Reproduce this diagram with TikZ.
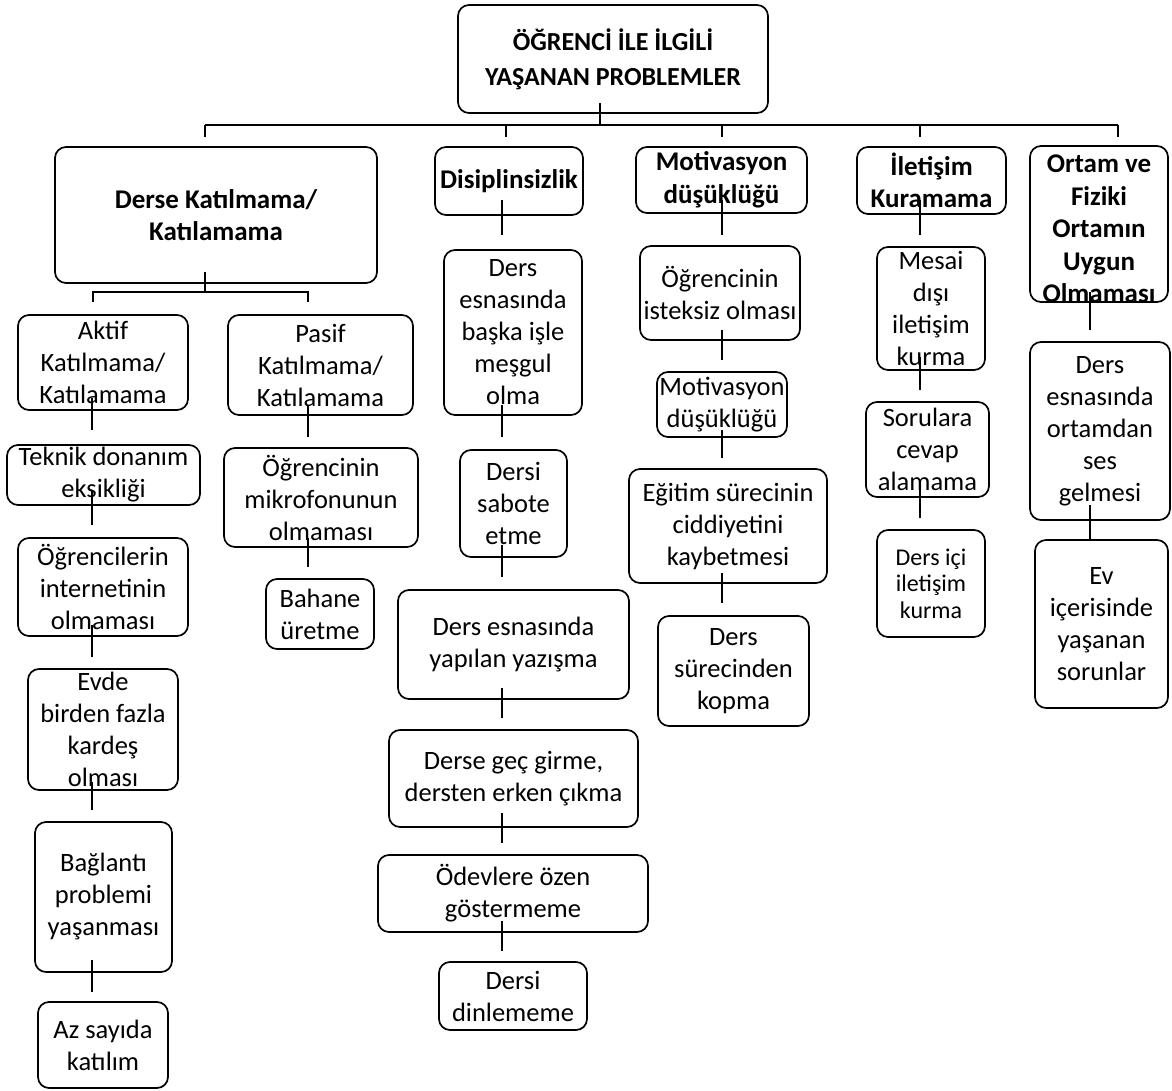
\documentclass[tikz,border=0pt]{standalone}
\usepackage{fontspec}
\setmainfont{Carlito}
\tikzset{
  box/.style={draw, line width=1.7pt, rounded corners=11pt, inner sep=0pt},
  txt/.style={align=center, inner sep=0pt, font=\fontsize{26.5}{32}\selectfont},
  btxt/.style={align=center, inner sep=0pt, font=\fontsize{27}{32.5}\selectfont\bfseries},
  rtxt/.style={align=center, inner sep=0pt, font=\fontsize{26}{35}\selectfont\bfseries},
  stxt/.style={align=center, inner sep=0pt, font=\fontsize{24}{26.5}\selectfont},
  conn/.style={line width=1.7pt},
}
\newcommand{\bx}[6]{%
  \node[box, minimum width=#4, minimum height=#5] (#1) at (#2,#3) {};
  \node[#6] (#1-t) at (#1.center) }
\begin{document}
\begin{tikzpicture}[x=1pt,y=-1pt]
\useasboundingbox (0,0) rectangle (1172,1091);
% root
\bx{root}{613}{59}{310}{108}{rtxt}{ÖĞRENCİ İLE İLGİLİ\\YAŞANAN PROBLEMLER};
% level 1
\bx{d1}{216}{215}{322}{136}{btxt}{Derse Katılmama/\\Katılamama};
\bx{d2}{509}{181}{148}{68}{btxt}{Disiplinsizlik};
\bx{d3}{721.5}{180}{171}{66}{btxt}{Motivasyon\\düşüklüğü};
\bx{d4}{931.5}{180.5}{149}{67}{btxt}{İletişim\\Kuramama};
\bx{d5}{1099}{224}{138}{156}{btxt,yshift=-5pt}{Ortam ve\\Fiziki\\Ortamın\\Uygun\\Olmaması};
% aktif
\bx{a1}{103}{362.5}{170}{95}{txt}{Aktif\\Katılmama/\\Katılamama};
\bx{a2}{103.5}{475}{193}{60}{txt}{Teknik donanım\\eksikliği};
\bx{a3}{103}{587}{170}{98}{txt}{Öğrencilerin\\internetinin\\olmaması};
\bx{a4}{103}{729.5}{150}{121}{txt}{Evde\\birden fazla\\kardeş\\olması};
\bx{a5}{103.5}{897}{137}{150}{txt}{Bağlantı\\problemi\\yaşanması};
\bx{a6}{103}{1045}{130}{86}{txt}{Az sayıda\\katılım};
% pasif
\bx{p1}{320.5}{365}{185}{100}{txt}{Pasif\\Katılmama/\\Katılamama};
\bx{p2}{321}{497.5}{194}{99}{txt}{Öğrencinin\\mikrofonunun\\olmaması};
\bx{p3}{320}{614}{108}{70}{txt}{Bahane\\üretme};
% disiplinsizlik
\bx{s1}{513}{332.5}{138}{165}{txt}{Ders\\esnasında\\başka işle\\meşgul\\olma};
\bx{s2}{513.5}{503.5}{107}{107}{txt}{Dersi\\sabote\\etme};
\bx{s3}{513.5}{644.5}{231}{109}{txt}{Ders esnasında\\yapılan yazışma};
\bx{s4}{513.5}{778.5}{249}{97}{txt}{Derse geç girme,\\dersten erken çıkma};
\bx{s5}{513}{893.5}{270}{77}{txt}{Ödevlere özen\\göstermeme};
\bx{s6}{513}{996}{148}{68}{txt}{Dersi\\dinlememe};
% motivasyon
\bx{m1}{720}{293}{160}{94}{txt}{Öğrencinin\\isteksiz olması};
\bx{m2}{722}{404.5}{130}{65}{txt}{Motivasyon\\düşüklüğü};
\bx{m3}{728}{526}{198}{114}{txt}{Eğitim sürecinin\\ciddiyetini\\kaybetmesi};
\bx{m4}{733.5}{671}{151}{110}{txt}{Ders\\sürecinden\\kopma};
% iletisim
\bx{i1}{931}{308.5}{108}{123}{txt}{Mesai\\dışı\\iletişim\\kurma};
\bx{i2}{927.5}{449.5}{123}{95}{txt}{Sorulara\\cevap\\alamama};
\bx{i3}{931}{583.5}{108}{107}{stxt}{Ders içi\\iletişim\\kurma};
% ortam
\bx{o2}{1100}{431}{140}{178}{txt}{Ders\\esnasında\\ortamdan\\ses\\gelmesi};
\bx{o3}{1101.5}{624}{133}{168}{txt}{Ev\\içerisinde\\yaşanan\\sorunlar};
% connector points
\coordinate (r0) at (600,103); \coordinate (r1) at (600,125);
\coordinate (bl) at (205,125); \coordinate (br) at (1118,125);
\foreach \n/\x in {k1/205,k2/506,k3/722,k4/920,k5/1118}{
  \coordinate (\n a) at (\x,125); \coordinate (\n b) at (\x,137);}
\draw[conn] (r0) -- (r1);
\draw[conn] (bl) -- (br);
\foreach \n in {k1,k2,k3,k4,k5}{\draw[conn] (\n a) -- (\n b);}
\coordinate (e0) at (205,272); \coordinate (e1) at (205,292);
\coordinate (el) at (93,292); \coordinate (er) at (308,292);
\coordinate (el2) at (93,302); \coordinate (er2) at (308,302);
\draw[conn] (e0) -- (e1);
\draw[conn] (el2) -- (el) -- (er) -- (er2);
% vertical connectors
\foreach \x/\ya/\yb [count=\i] in {
  92/398/430, 92/490/525, 92/625/657, 92/782/810, 92/960/992,
  308/405/437, 308/538/567,
  502/200/235, 502/405/437, 502/545/577, 502/688/718, 502/813/843, 502/921/951,
  722/200/235, 722/330/360, 722/430/458, 722/573/603,
  920/200/235, 920/357/390, 920/487/518,
  1090/292/330, 1090/505/540}{
  \coordinate (v\i a) at (\x,\ya); \coordinate (v\i b) at (\x,\yb);
  \draw[conn] (v\i a) -- (v\i b);}
\end{tikzpicture}
\end{document}
